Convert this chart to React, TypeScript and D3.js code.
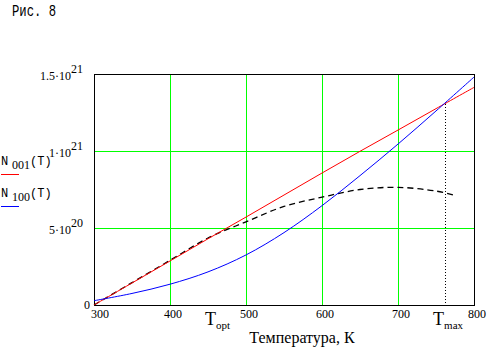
import React from 'react';
import * as d3 from 'd3';

// values in units of 1e21
const temps = [300, 350, 400, 450, 500, 550, 600, 650, 700, 750, 800];
const n001 = [0, 0.143, 0.286, 0.43, 0.571, 0.714, 0.857, 0.998, 1.136, 1.275, 1.413];
const n100 = [0.028, 0.075, 0.135, 0.215, 0.325, 0.47, 0.645, 0.84, 1.045, 1.26, 1.48];
const effTemps = [300, 350, 400, 450, 500, 550, 600, 650, 700, 750, 775];
const nEff = [0, 0.145, 0.29, 0.435, 0.54, 0.64, 0.7, 0.75, 0.764, 0.74, 0.712];

const xTicks = [300, 400, 500, 600, 700, 800];
const yTicks = [0, 0.5, 1, 1.5];
const yMantissa = ['0', '5·10', '1·10', '1.5·10'];
const yExponent = ['', '20', '21', '21'];

const tOpt = 450;
const tMax = 762;

const W = 488;
const H = 364;
const left = 94;
const right = 474;
const top = 74;
const bottom = 305;

const serif = { fontFamily: 'Liberation Serif, DejaVu Serif, serif' };
const mono = { fontFamily: 'Liberation Mono, Courier New, monospace' };

export default function App() {
  const x = d3.scaleLinear().domain([300, 800]).range([left, right]);
  const y = d3.scaleLinear().domain([0, 1.5]).range([bottom, top]);

  const line = d3
    .line<[number, number]>()
    .x(d => x(d[0]))
    .y(d => y(d[1]))
    .curve(d3.curveCatmullRom);

  const redPath = line(temps.map((t, i) => [t, n001[i]]));
  const bluePath = line(temps.map((t, i) => [t, n100[i]]));
  const effPath = line(effTemps.map((t, i) => [t, nEff[i]]));

  // value at Tmax (where the two curves cross)
  const maxVal = d3.scaleLinear().domain(temps).range(n001)(tMax);

  return (
    <svg
      width={W}
      height={H}
      style={{ position: 'absolute', left: 0, top: 0, background: '#fff' }}
    >
      <rect x={0} y={0} width={W} height={H} fill="#fff" />

      <text x={12} y={16} style={mono} fontSize={16} textLength={44} lengthAdjust="spacingAndGlyphs">
        Рис. 8
      </text>

      {/* grid */}
      <g stroke="#00ff00" strokeWidth={1} shapeRendering="crispEdges">
        {xTicks.slice(1, -1).map(t => (
          <line key={t} x1={x(t)} x2={x(t)} y1={top} y2={bottom} />
        ))}
        {yTicks.slice(1, -1).map(v => (
          <line key={v} x1={left} x2={right} y1={y(v)} y2={y(v)} />
        ))}
      </g>

      {/* frame */}
      <rect
        x={left}
        y={top}
        width={right - left}
        height={bottom - top}
        fill="none"
        stroke="#000"
        strokeWidth={1}
        shapeRendering="crispEdges"
      />

      {/* Tmax marker */}
      <line
        x1={x(tMax)}
        x2={x(tMax)}
        y1={y(maxVal)}
        y2={bottom}
        stroke="#000"
        strokeWidth={1}
        strokeDasharray="1,2"
        shapeRendering="crispEdges"
      />

      <path d={effPath || ''} fill="none" stroke="#000" strokeWidth={1.3} strokeDasharray="6,4" />
      <path d={redPath || ''} fill="none" stroke="#ff0000" strokeWidth={1} />
      <path d={bluePath || ''} fill="none" stroke="#0000ff" strokeWidth={1} />

      {/* y labels */}
      <g style={serif} fontSize={12}>
        {yTicks.map((v, i) =>
          yExponent[i] ? (
            <text key={v} x={83} y={y(v) + 6} textAnchor="end">
              {yMantissa[i]}
              <tspan dy={-7}>{yExponent[i]}</tspan>
            </text>
          ) : (
            <text key={v} x={90} y={y(v) + 4} textAnchor="end">
              {yMantissa[i]}
            </text>
          ),
        )}
      </g>

      {/* x labels */}
      <g style={serif} fontSize={12}>
        {xTicks.map(t => (
          <text key={t} x={x(t) + (t === 300 ? 6 : 3)} y={bottom + 13} textAnchor="middle">
            {t}
          </text>
        ))}
      </g>

      <text x={x(tOpt) - 3} y={325} style={serif} fontSize={18}>
        T<tspan fontSize={11} dy={4}>opt</tspan>
      </text>
      <text x={x(tMax) - 12} y={325} style={serif} fontSize={18}>
        T<tspan fontSize={11} dy={4}>max</tspan>
      </text>

      <text x={302} y={343} style={serif} fontSize={16} textAnchor="middle">
        Температура, К
      </text>

      {/* legend */}
      <g style={mono} fontSize={12}>
        <text x={1} y={165}>
          N<tspan x={12} dy={4} style={serif}>001</tspan>
          <tspan dy={-4}>(T)</tspan>
        </text>
        <line x1={1} x2={19} y1={174.5} y2={174.5} stroke="#ff0000" strokeWidth={1} />
        <text x={1} y={197}>
          N<tspan x={12} dy={4} style={serif}>100</tspan>
          <tspan dy={-4}>(T)</tspan>
        </text>
        <line x1={1} x2={19} y1={206.5} y2={206.5} stroke="#0000ff" strokeWidth={1} />
      </g>
    </svg>
  );
}
